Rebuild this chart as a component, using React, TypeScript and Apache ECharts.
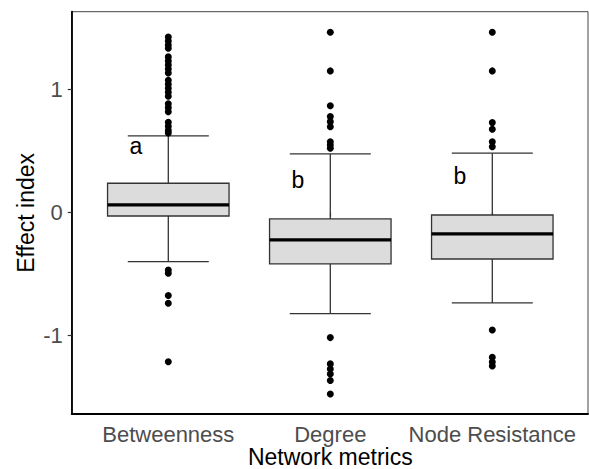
import React, { useEffect, useRef } from "react";
import * as echarts from "echarts";

const categories = ["Betweenness", "Degree", "Node Resistance"];
const lowerWhisker = [-0.4, -0.823, -0.736];
const q1 = [-0.028, -0.418, -0.378];
const median = [0.062, -0.223, -0.174];
const q3 = [0.2385, -0.052, -0.02];
const upperWhisker = [0.624, 0.477, 0.483];

const outliersBetweenness = [
  1.429, 1.397, 1.364, 1.337, 1.267, 1.234, 1.202, 1.169, 1.136, 1.077, 1.044,
  1.012, 0.979, 0.947, 0.886, 0.854, 0.821, 0.735, 0.702, 0.67, 0.648,
  -0.468, -0.494, -0.676, -0.738, -1.214,
];
const outliersDegree = [
  1.468, 1.153, 0.87, 0.781, 0.74, 0.699, 0.577, 0.55, 0.523,
  -1.018, -1.232, -1.273, -1.314, -1.368, -1.477,
];
const outliersNodeResistance = [
  1.468, 1.153, 0.732, 0.678, 0.577, 0.536,
  -0.956, -1.178, -1.216, -1.249,
];

const groupLetters = ["a", "b", "b"];
const letterY = [0.542, 0.263, 0.298];
const yTicks = [-1, 0, 1];
const yMin = -1.64;
const yMax = 1.635;

const FONT = '"Liberation Sans", Arial, Helvetica, sans-serif';

export default function App() {
  const ref = useRef<HTMLDivElement>(null);

  useEffect(() => {
    document.body.style.margin = "0";
    if (!ref.current) return;
    const chart = echarts.init(ref.current, undefined, { renderer: "svg" });

    const boxData = categories.map((_, i) => [
      i,
      lowerWhisker[i],
      q1[i],
      median[i],
      q3[i],
      upperWhisker[i],
    ]);
    const outlierData: number[][] = [];
    [outliersBetweenness, outliersDegree, outliersNodeResistance].forEach(
      (arr, i) => arr.forEach((v) => outlierData.push([i, v]))
    );
    const letterData = categories.map((_, i) => [i, letterY[i], groupLetters[i]]);

    const option: any = {
      animation: false,
      textStyle: { fontFamily: FONT },
      grid: [
        {
          left: 87.3,
          right: 15.7,
          top: 11.7,
          bottom: 55,
          show: false,
          containLabel: false,
          outerBoundsMode: "none",
        },
        {
          left: 71.7,
          right: 1,
          top: 11.7,
          bottom: 55,
          show: true,
          borderColor: "#444",
          borderWidth: 1,
          backgroundColor: "transparent",
          containLabel: false,
          outerBoundsMode: "none",
        },
      ],
      xAxis: [
        {
          gridIndex: 0,
          type: "category",
          data: categories,
          boundaryGap: true,
          axisLine: { show: false },
          axisTick: {
            show: true,
            alignWithLabel: true,
            length: 4,
            lineStyle: { color: "#333", width: 1.2 },
          },
          axisLabel: {
            color: "#4d4d4d",
            fontSize: 22,
            lineHeight: 20,
            margin: 10,
            interval: 0,
            fontFamily: FONT,
          },
          splitLine: { show: false },
          name: "Network metrics",
          nameLocation: "middle",
          nameGap: 32,
          nameMoveOverlap: false,
          nameTextStyle: { color: "#000", fontSize: 23, lineHeight: 22, fontFamily: FONT },
        },
        {
          gridIndex: 1,
          type: "value",
          min: 0,
          max: 1,
          axisLine: { show: true, lineStyle: { color: "#000", width: 1.8 } },
          axisTick: { show: false },
          axisLabel: { show: false },
          splitLine: { show: false },
        },
      ],
      yAxis: [
        {
          gridIndex: 0,
          type: "value",
          min: yMin,
          max: yMax,
          offset: 15.6,
          axisLine: { show: false },
          axisTick: {
            show: true,
            length: 4,
            customValues: yTicks,
            lineStyle: { color: "#333", width: 1.2 },
          },
          axisLabel: {
            color: "#4d4d4d",
            fontSize: 22,
            margin: 9,
            customValues: yTicks,
            fontFamily: FONT,
          },
          splitLine: { show: false },
          name: "Effect index",
          nameLocation: "middle",
          nameRotate: 90,
          nameGap: 34,
          nameMoveOverlap: false,
          nameTextStyle: { color: "#000", fontSize: 23, fontFamily: FONT },
        },
        {
          gridIndex: 1,
          type: "value",
          min: 0,
          max: 1,
          axisLine: { show: true, lineStyle: { color: "#000", width: 1.8 } },
          axisTick: { show: false },
          axisLabel: { show: false },
          splitLine: { show: false },
        },
      ],
      series: [
        {
          type: "custom",
          xAxisIndex: 0,
          yAxisIndex: 0,
          data: boxData,
          encode: { x: 0, y: [1, 2, 3, 4, 5] },
          z: 2,
          renderItem: (params: any, api: any) => {
            const idx = api.value(0);
            const band = api.size([1, 0])[0];
            const cx = api.coord([idx, 0])[0];
            const yLw = api.coord([idx, api.value(1)])[1];
            const yQ1 = api.coord([idx, api.value(2)])[1];
            const yMed = api.coord([idx, api.value(3)])[1];
            const yQ3 = api.coord([idx, api.value(4)])[1];
            const yHw = api.coord([idx, api.value(5)])[1];
            const boxW = band * 0.75;
            const capW = band * 0.5;
            const lineStyle = { stroke: "#333", lineWidth: 1.3 };
            return {
              type: "group",
              children: [
                { type: "line", shape: { x1: cx, y1: yHw, x2: cx, y2: yQ3 }, style: lineStyle },
                { type: "line", shape: { x1: cx, y1: yQ1, x2: cx, y2: yLw }, style: lineStyle },
                { type: "line", shape: { x1: cx - capW / 2, y1: yHw, x2: cx + capW / 2, y2: yHw }, style: lineStyle },
                { type: "line", shape: { x1: cx - capW / 2, y1: yLw, x2: cx + capW / 2, y2: yLw }, style: lineStyle },
                {
                  type: "rect",
                  shape: { x: cx - boxW / 2, y: yQ3, width: boxW, height: yQ1 - yQ3 },
                  style: { fill: "#dcdcdc", stroke: "#333", lineWidth: 1.3 },
                },
                {
                  type: "line",
                  shape: { x1: cx - boxW / 2, y1: yMed, x2: cx + boxW / 2, y2: yMed },
                  style: { stroke: "#000", lineWidth: 3.2 },
                },
              ],
            };
          },
        },
        {
          type: "scatter",
          xAxisIndex: 0,
          yAxisIndex: 0,
          data: outlierData,
          symbol: "circle",
          symbolSize: 7,
          itemStyle: { color: "#000", opacity: 1 },
          z: 3,
        },
        {
          type: "custom",
          xAxisIndex: 0,
          yAxisIndex: 0,
          data: letterData,
          encode: { x: 0, y: 1 },
          z: 4,
          renderItem: (params: any, api: any) => {
            const idx = api.value(0);
            const band = api.size([1, 0])[0];
            const pt = api.coord([idx, api.value(1)]);
            return {
              type: "text",
              x: pt[0] - band * 0.2,
              y: pt[1],
              style: {
                text: groupLetters[params.dataIndex],
                fontSize: 23,
                fontFamily: FONT,
                fill: "#000",
                align: "center",
                verticalAlign: "middle",
              },
            };
          },
        },
      ],
    };

    chart.setOption(option);
    return () => chart.dispose();
  }, []);

  return <div ref={ref} style={{ width: 589, height: 469 }} />;
}
